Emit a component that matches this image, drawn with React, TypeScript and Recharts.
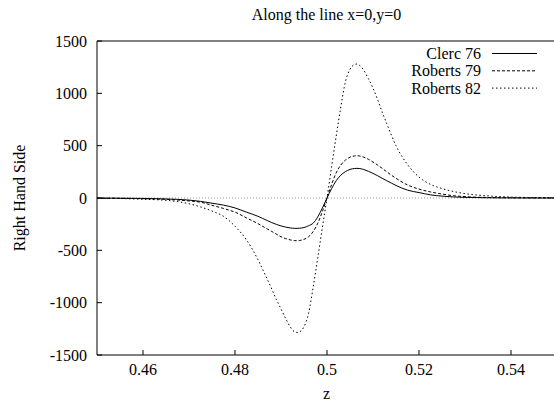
import { LineChart, Line, XAxis, YAxis, ReferenceLine } from "recharts";

// z positions along the line x=0, y=0
const zValues = [
  0.45, 0.455, 0.46, 0.465, 0.47, 0.4725, 0.475, 0.4775, 0.48, 0.4825, 0.485,
  0.486, 0.487, 0.488, 0.489, 0.49, 0.491, 0.492, 0.493, 0.4935, 0.494, 0.495,
  0.496, 0.497, 0.498, 0.499, 0.5, 0.501, 0.502, 0.503, 0.504, 0.505, 0.506,
  0.5065, 0.507, 0.508, 0.509, 0.51, 0.511, 0.512, 0.513, 0.514, 0.515, 0.5175,
  0.52, 0.5225, 0.525, 0.5275, 0.53, 0.535, 0.54, 0.545, 0.55,
];

const clerc76 = [
  -1, -2, -4, -9, -20, -32, -50, -68, -95, -135, -175, -195, -215, -235, -252,
  -267, -278, -286, -290, -290, -289, -282, -265, -240, -180, -95, 0, 90, 165,
  218, 252, 273, 282, 283, 282, 272, 255, 235, 213, 188, 165, 142, 120, 75, 52,
  30, 18, 10, 6, 2, 1, 0, 0,
];

const roberts79 = [
  -1, -3, -6, -13, -28, -40, -70, -100, -135, -190, -245, -270, -295, -320,
  -345, -370, -388, -400, -407, -408, -406, -395, -370, -320, -240, -130, 0,
  130, 240, 315, 362, 390, 402, 404, 402, 390, 370, 343, 315, 283, 250, 218,
  188, 125, 85, 58, 38, 22, 13, 5, 2, 1, 0,
];

const roberts82 = [
  -2, -5, -12, -22, -55, -85, -125, -175, -270, -400, -590, -680, -775, -870,
  -970, -1060, -1150, -1230, -1280, -1285, -1280, -1230, -1100, -850, -570,
  -280, 0, 300, 590, 870, 1110, 1230, 1275, 1280, 1270, 1220, 1140, 1050, 940,
  820, 710, 600, 500, 320, 200, 130, 90, 62, 42, 20, 9, 4, 2,
];

const seriesNames = ["Clerc 76", "Roberts 79", "Roberts 82"];
const seriesDash = ["", "3 2", "1.5 2.5"];
const xTicks = [0.46, 0.48, 0.5, 0.52, 0.54];
const yTicks = [-1500, -1000, -500, 0, 500, 1000, 1500];

const data = zValues.map((z, i) => ({
  z,
  clerc76: clerc76[i],
  roberts79: roberts79[i],
  roberts82: roberts82[i],
}));

const FONT = "Liberation Serif";
const tickStyle = { fill: "#000", fontSize: 16, fontFamily: FONT };

export default function App() {
  return (
    <div
      style={{
        position: "absolute",
        left: 0,
        top: 0,
        width: 554,
        height: 405,
        overflow: "hidden",
        background: "#fff",
        fontFamily: FONT,
        fontSize: 16,
      }}
    >
      <LineChart
        width={560}
        height={405}
        data={data}
        margin={{ top: 41, right: 3, bottom: 0, left: 0 }}
        style={{ fontFamily: FONT }}
      >
        <XAxis
          dataKey="z"
          type="number"
          domain={[0.45, 0.55]}
          ticks={xTicks}
          interval={0}
          allowDataOverflow
          tickFormatter={(v) => String(v)}
          tick={tickStyle}
          tickSize={-5}
          tickMargin={14}
          height={50}
          stroke="#000"
        />
        <XAxis
          xAxisId="top"
          orientation="top"
          mirror
          type="number"
          domain={[0.45, 0.55]}
          ticks={xTicks}
          interval={0}
          tick={false}
          tickSize={5}
          stroke="#000"
        />
        <YAxis
          type="number"
          domain={[-1500, 1500]}
          ticks={yTicks}
          interval={0}
          tick={tickStyle}
          tickSize={-5}
          tickMargin={15}
          width={97}
          stroke="#000"
        />
        <YAxis
          yAxisId="right"
          orientation="right"
          mirror
          type="number"
          domain={[-1500, 1500]}
          ticks={yTicks}
          interval={0}
          tick={false}
          tickSize={5}
          stroke="#000"
        />
        <ReferenceLine y={0} stroke="#999" strokeDasharray="1 2" />
        <Line
          dataKey="clerc76"
          type="monotone"
          stroke="#000"
          strokeWidth={1}
          dot={false}
          isAnimationActive={false}
        />
        <Line
          dataKey="roberts79"
          type="monotone"
          stroke="#000"
          strokeWidth={1}
          strokeDasharray={seriesDash[1]}
          dot={false}
          isAnimationActive={false}
        />
        <Line
          dataKey="roberts82"
          type="monotone"
          stroke="#000"
          strokeWidth={1}
          strokeDasharray={seriesDash[2]}
          dot={false}
          isAnimationActive={false}
        />
      </LineChart>
      <svg
        width={554}
        height={405}
        style={{
          position: "absolute",
          left: 0,
          top: 0,
          pointerEvents: "none",
          fontFamily: FONT,
          fontSize: 16,
        }}
      >
        <text x={326.5} y={20} textAnchor="middle" fill="#000">
          Along the line x=0,y=0
        </text>
        <text x={326.5} y={399} textAnchor="middle" fill="#000">
          z
        </text>
        <text
          x={25}
          y={198}
          textAnchor="middle"
          fill="#000"
          transform="rotate(-90 25 198)"
        >
          Right Hand Side
        </text>
        {seriesNames.map((name, i) => {
          const base = 59 + i * 17.3;
          return (
            <g key={name}>
              <text x={481} y={base} textAnchor="end" fill="#000">
                {name}
              </text>
              <line
                x1={492}
                x2={537}
                y1={base - 5.5}
                y2={base - 5.5}
                stroke="#000"
                strokeWidth={1}
                strokeDasharray={seriesDash[i] || undefined}
              />
            </g>
          );
        })}
      </svg>
    </div>
  );
}
